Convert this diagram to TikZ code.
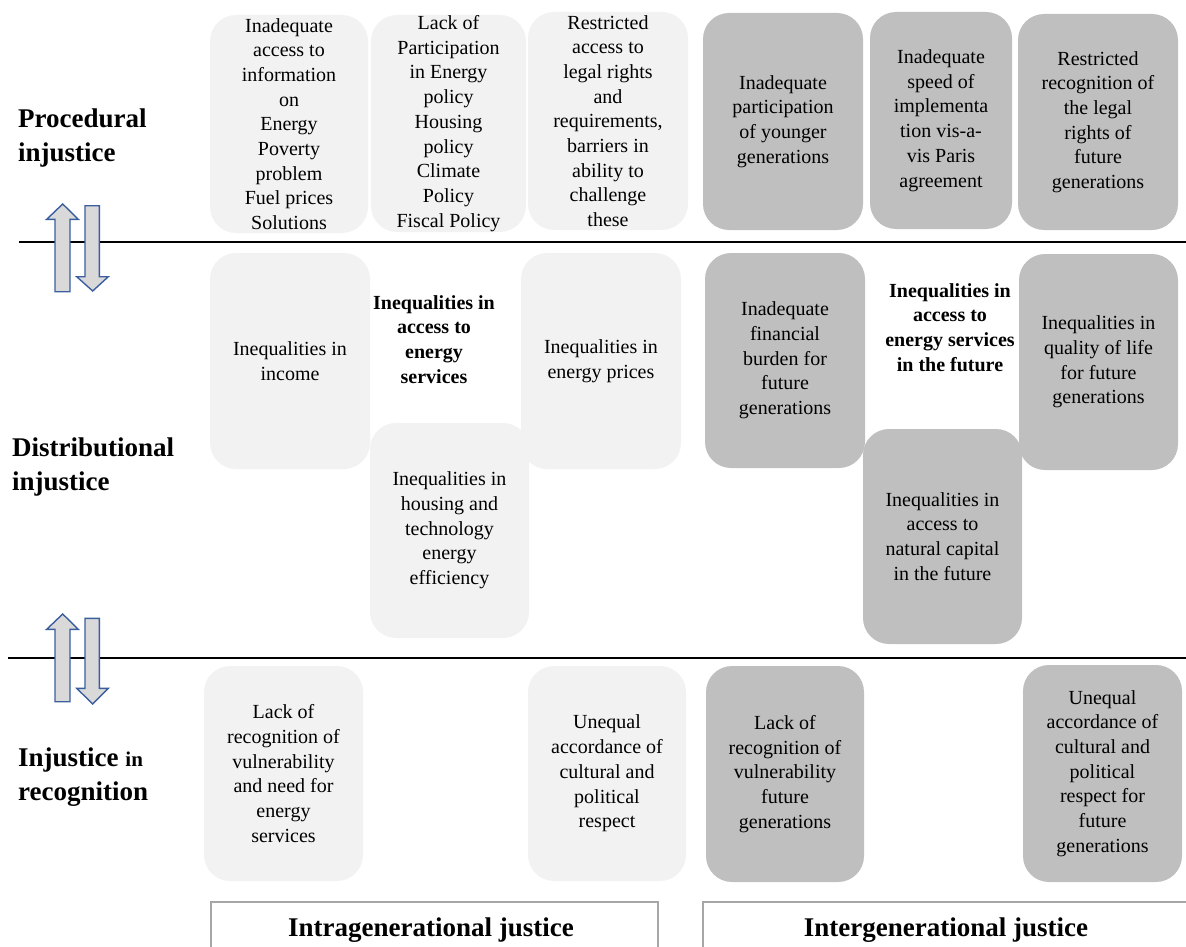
\documentclass[tikz,border=0pt]{standalone}
\usepackage{fontspec}
\setmainfont{Liberation Serif}
\definecolor{lightbox}{HTML}{F2F2F2}
\definecolor{darkbox}{HTML}{BFBFBF}
\definecolor{arrowblue}{HTML}{3B5F9E}
\definecolor{arrowfill}{HTML}{D9D9D9}
\definecolor{framegray}{HTML}{A6A6A6}
\begin{document}
\begin{tikzpicture}[x=1pt,y=-1pt,
  boxbase/.style={rectangle, rounded corners=26pt, inner sep=0pt, align=center,
    font=\fontsize{20}{24.7}\selectfont},
  lbox/.style={boxbase, fill=lightbox},
  dbox/.style={boxbase, fill=darkbox},
  boldtxt/.style={align=center, inner sep=0pt, font=\fontsize{20}{24.7}\selectfont\bfseries},
  rowlab/.style={anchor=west, align=left, inner sep=0pt, font=\fontsize{27}{34}\selectfont\bfseries},
  collab/.style={inner sep=0pt, font=\fontsize{27}{32}\selectfont\bfseries},
  sepline/.style={line width=2.2pt, black},
  blockarrow/.style={draw=arrowblue, fill=arrowfill, line width=1.4pt, line join=miter},
  frameline/.style={draw=framegray, line width=1.4pt}
]
\useasboundingbox (0,0) rectangle (1186,947);

% separator lines
\draw[sepline] (19,242) -- (1186,242);
\draw[sepline] (8,658) -- (1186,658);

% block arrows (upper pair)
\draw[blockarrow] (62.7,204) -- (78.3,219.3) -- (70,219.3) -- (70,291.7) -- (55,291.7) -- (55,219.3) -- (46.7,219.3) -- cycle;
\draw[blockarrow] (85,205.7) -- (99.3,205.7) -- (99.3,276.7) -- (108.3,276.7) -- (92.7,291) -- (76.7,276.7) -- (85,276.7) -- cycle;
% block arrows (lower pair)
\draw[blockarrow] (62.7,614) -- (78.3,629.3) -- (70,629.3) -- (70,701.7) -- (55,701.7) -- (55,629.3) -- (46.7,629.3) -- cycle;
\draw[blockarrow] (85,618.3) -- (99.3,618.3) -- (99.3,688.3) -- (108.3,688.3) -- (92.7,704) -- (76.7,688.3) -- (85,688.3) -- cycle;

% row labels
\node[rowlab] (lproc) at (18,138) {Procedural\\injustice};
\node[rowlab] (ldist) at (12,467) {Distributional\\injustice};
\node[rowlab] (lrec) at (18,777) {Injustice {\fontsize{21}{34}\selectfont in}\\recognition};

% row 1: procedural
\node[lbox, minimum width=158, minimum height=218] (p1) at (289,124)
  {Inadequate\\access to\\information\\on\\Energy\\Poverty\\problem\\Fuel prices\\Solutions};
\node[lbox, minimum width=155, minimum height=217] (p2) at (448.5,123.5)
  {Lack of\\Participation\\in Energy\\policy\\Housing\\policy\\Climate\\Policy\\Fiscal Policy};
\node[lbox, minimum width=160, minimum height=218] (p3) at (608,121)
  {Restricted\\access to\\legal rights\\and\\requirements,\\barriers in\\ability to\\challenge\\these};
\node[dbox, minimum width=160, minimum height=217] (p4) at (783,121.5)
  {Inadequate\\participation\\of younger\\generations};
\node[dbox, minimum width=142, minimum height=217] (p5) at (941,120.5)
  {Inadequate\\speed of\\implementa\\tion vis-a-\\vis Paris\\agreement};
\node[dbox, minimum width=160, minimum height=216] (p6) at (1098,122)
  {Restricted\\recognition of\\the legal\\rights of\\future\\generations};

% row 2: distributional
\node[lbox, minimum width=160, minimum height=216] (d1) at (290,361)
  {Inequalities in\\income};
\node[lbox, minimum width=159, minimum height=215] (d3) at (449.5,530.5)
  {Inequalities in\\housing and\\technology\\energy\\efficiency};
\node[lbox, minimum width=160, minimum height=216] (d4) at (601,361)
  {Inequalities in\\energy prices};
\node[boldtxt] (d2) at (434,339.5)
  {Inequalities in\\access to\\energy\\services};
\node[dbox, minimum width=160, minimum height=215] (d5) at (785,360.5)
  {Inadequate\\financial\\burden for\\future\\generations};
\node[dbox, minimum width=159, minimum height=215] (d7) at (942.5,536.5)
  {Inequalities in\\access to\\natural capital\\in the future};
\node[dbox, minimum width=159, minimum height=216] (d8) at (1098.5,362)
  {Inequalities in\\quality of life\\for future\\generations};
\node[boldtxt] (d6) at (950,327.5)
  {Inequalities in\\access to\\energy services\\in the future};

% row 3: recognition
\node[lbox, minimum width=159, minimum height=215] (r1) at (283.5,773.5)
  {Lack of\\recognition of\\vulnerability\\and need for\\energy\\services};
\node[lbox, minimum width=158, minimum height=215] (r2) at (607,773.5)
  {Unequal\\accordance of\\cultural and\\political\\respect};
\node[dbox, minimum width=158, minimum height=216] (r3) at (785,774)
  {Lack of\\recognition of\\vulnerability\\future\\generations};
\node[dbox, minimum width=159, minimum height=217] (r4) at (1102.5,773.5)
  {Unequal\\accordance of\\cultural and\\political\\respect for\\future\\generations};

% column frames and labels
\draw[frameline] (211,950) -- (211,902) -- (658,902) -- (658,950);
\draw[frameline] (703,950) -- (703,902) -- (1190,902);
\node[collab] (intra) at (431,930) {Intragenerational justice};
\node[collab] (inter) at (946,930) {Intergenerational justice};
\end{tikzpicture}
\end{document}
